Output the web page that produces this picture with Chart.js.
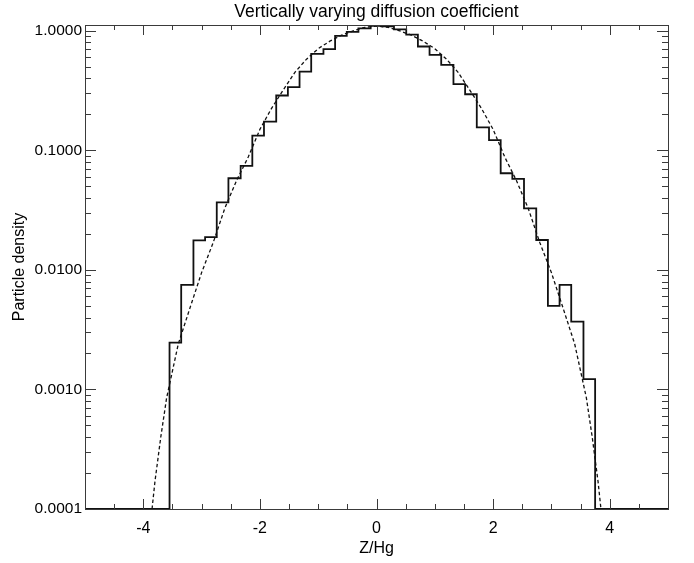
<!DOCTYPE html>
<html>
<head>
<meta charset="utf-8">
<script src="https://cdn.jsdelivr.net/npm/chart.js@4.4.1/dist/chart.umd.min.js"></script>
<style>
  html, body { margin: 0; padding: 0; background: #fff; }
  #wrap { width: 694px; height: 563px; }
</style>
</head>
<body>
<div id="wrap"><canvas id="chart" width="694" height="563"></canvas></div>
<script>
// histogram of particle positions: bin edges (Z/Hg) and density per bin
const binEdges = [-3.55, -3.35, -3.14, -2.94, -2.74, -2.54, -2.33, -2.13, -1.93, -1.72,
  -1.52, -1.32, -1.12, -0.91, -0.71, -0.51, -0.31, -0.10, 0.10, 0.30,
  0.51, 0.71, 0.91, 1.11, 1.32, 1.52, 1.72, 1.93, 2.13, 2.33,
  2.53, 2.74, 2.94, 3.14, 3.34, 3.55, 3.75];
const binDensity = [0.00247, 0.0075, 0.0177, 0.0188, 0.0367, 0.0585, 0.0741, 0.133, 0.174, 0.288,
  0.338, 0.457, 0.643, 0.703, 0.908, 0.98, 1.05, 1.10, 1.09, 1.03,
  0.93, 0.74, 0.631, 0.519, 0.359, 0.295, 0.156, 0.122, 0.0644, 0.0578,
  0.0328, 0.0178, 0.0050, 0.0075, 0.0037, 0.00122];

// dashed analytic profile
const curveZ = [-3.85, -3.8, -3.7, -3.6, -3.4, -3.2, -3.0, -2.8, -2.6, -2.4, -2.2, -2.0, -1.8, -1.6,
  -1.4, -1.2, -1.0, -0.8, -0.6, -0.4, -0.2, 0, 0.2, 0.4, 0.6, 0.8, 1.0, 1.2, 1.4, 1.6, 1.8, 2.0,
  2.2, 2.4, 2.6, 2.8, 3.0, 3.2, 3.4, 3.6, 3.7, 3.8, 3.85];
const curveDensity = [0.0001, 0.00017, 0.0004, 0.00085, 0.0024, 0.0048, 0.0095, 0.017, 0.033, 0.056,
  0.088, 0.15, 0.225, 0.32, 0.45, 0.58, 0.71, 0.82, 0.92, 1.00, 1.07, 1.10, 1.07, 1.00, 0.92, 0.82,
  0.71, 0.58, 0.45, 0.32, 0.225, 0.15, 0.088, 0.056, 0.033, 0.017, 0.0095, 0.0048, 0.0024, 0.00085,
  0.0004, 0.00017, 0.0001];

const xTicks = [-4, -2, 0, 2, 4];
const yTicks = [0.0001, 0.001, 0.01, 0.1, 1];
const xMin = -5, xMax = 5;
const yMin = 0.0001, yMax = 1.12;

const histPoints = [{ x: xMin, y: yMin }];
binDensity.forEach((d, i) => histPoints.push({ x: binEdges[i], y: d }));
histPoints.push({ x: binEdges[binEdges.length - 1], y: yMin });
histPoints.push({ x: xMax, y: yMin });

const curvePoints = curveZ.map((z, i) => ({ x: z, y: curveDensity[i] }));

const FONT = "'Liberation Sans', Arial, Helvetica, sans-serif";

// IDL style box: frame on all sides with inward major/minor ticks
const frameTicks = {
  id: 'frameTicks',
  afterDatasetsDraw(chart) {
    const { ctx, chartArea: a, scales: { x, y } } = chart;
    const px = v => Math.round(v) + 0.5;
    ctx.save();
    ctx.strokeStyle = '#3a3a3a';
    ctx.lineWidth = 1;
    ctx.beginPath();
    for (let v = xMin; v <= xMax + 1e-9; v += 0.5) {
      const major = xTicks.includes(Math.round(v * 10) / 10);
      const len = major ? 10 : 5;
      const xp = px(x.getPixelForValue(v));
      ctx.moveTo(xp, a.bottom); ctx.lineTo(xp, a.bottom - len);
      ctx.moveTo(xp, a.top); ctx.lineTo(xp, a.top + len);
    }
    yTicks.forEach(dec => {
      for (let m = 1; m <= 9; m++) {
        const v = dec * m;
        if (v > yMax) break;
        if (m > 1 && dec === 1) continue;
        const len = m === 1 ? 11 : 6;
        const yp = px(y.getPixelForValue(v));
        ctx.moveTo(a.left, yp); ctx.lineTo(a.left + len, yp);
        ctx.moveTo(a.right, yp); ctx.lineTo(a.right - len, yp);
      }
    });
    ctx.stroke();
    ctx.strokeRect(px(a.left), px(a.top), Math.round(a.right - a.left), Math.round(a.bottom - a.top));
    ctx.restore();
  }
};

new Chart(document.getElementById('chart'), {
  type: 'line',
  data: {
    datasets: [
      {
        label: 'histogram',
        data: histPoints,
        stepped: 'before',
        borderColor: '#111',
        borderWidth: 1.8,
        pointRadius: 0,
        fill: false
      },
      {
        label: 'profile',
        data: curvePoints,
        borderColor: '#111',
        borderWidth: 1.3,
        borderDash: [3.5, 2.5],
        pointRadius: 0,
        tension: 0,
        fill: false
      }
    ]
  },
  options: {
    responsive: false,
    animation: false,
    devicePixelRatio: 1,
    layout: { padding: { top: 0, right: 26, bottom: 0, left: 0 } },
    plugins: {
      legend: { display: false },
      tooltip: { enabled: false },
      title: {
        display: true,
        fullSize: false,
        text: 'Vertically varying diffusion coefficient',
        color: '#000',
        font: { family: FONT, size: 17.5, weight: 'normal' },
        padding: { top: 2, bottom: 2 }
      }
    },
    scales: {
      x: {
        type: 'linear',
        min: xMin,
        max: xMax,
        grid: { display: false, drawTicks: false },
        border: { display: false },
        afterBuildTicks: s => { s.ticks = xTicks.map(v => ({ value: v })); },
        afterFit: s => { s.height = 54; },
        ticks: {
          color: '#000',
          font: { family: FONT, size: 16 },
          padding: 10,
          maxRotation: 0,
          callback: v => String(v)
        },
        title: {
          display: true,
          text: 'Z/Hg',
          color: '#000',
          font: { family: FONT, size: 16 },
          padding: { top: 0, bottom: 5 }
        }
      },
      y: {
        type: 'logarithmic',
        min: yMin,
        max: yMax,
        grid: { display: false, drawTicks: false },
        border: { display: false },
        afterBuildTicks: s => { s.ticks = yTicks.map(v => ({ value: v })); },
        afterFit: s => { s.width = 85; },
        ticks: {
          color: '#000',
          font: { family: FONT, size: 15.5 },
          padding: 3,
          callback: v => Number(v).toFixed(4)
        },
        title: {
          display: true,
          text: 'Particle density',
          color: '#000',
          font: { family: FONT, size: 16 },
          padding: { top: 10, bottom: 0 }
        }
      }
    }
  },
  plugins: [frameTicks]
});
</script>
</body>
</html>
